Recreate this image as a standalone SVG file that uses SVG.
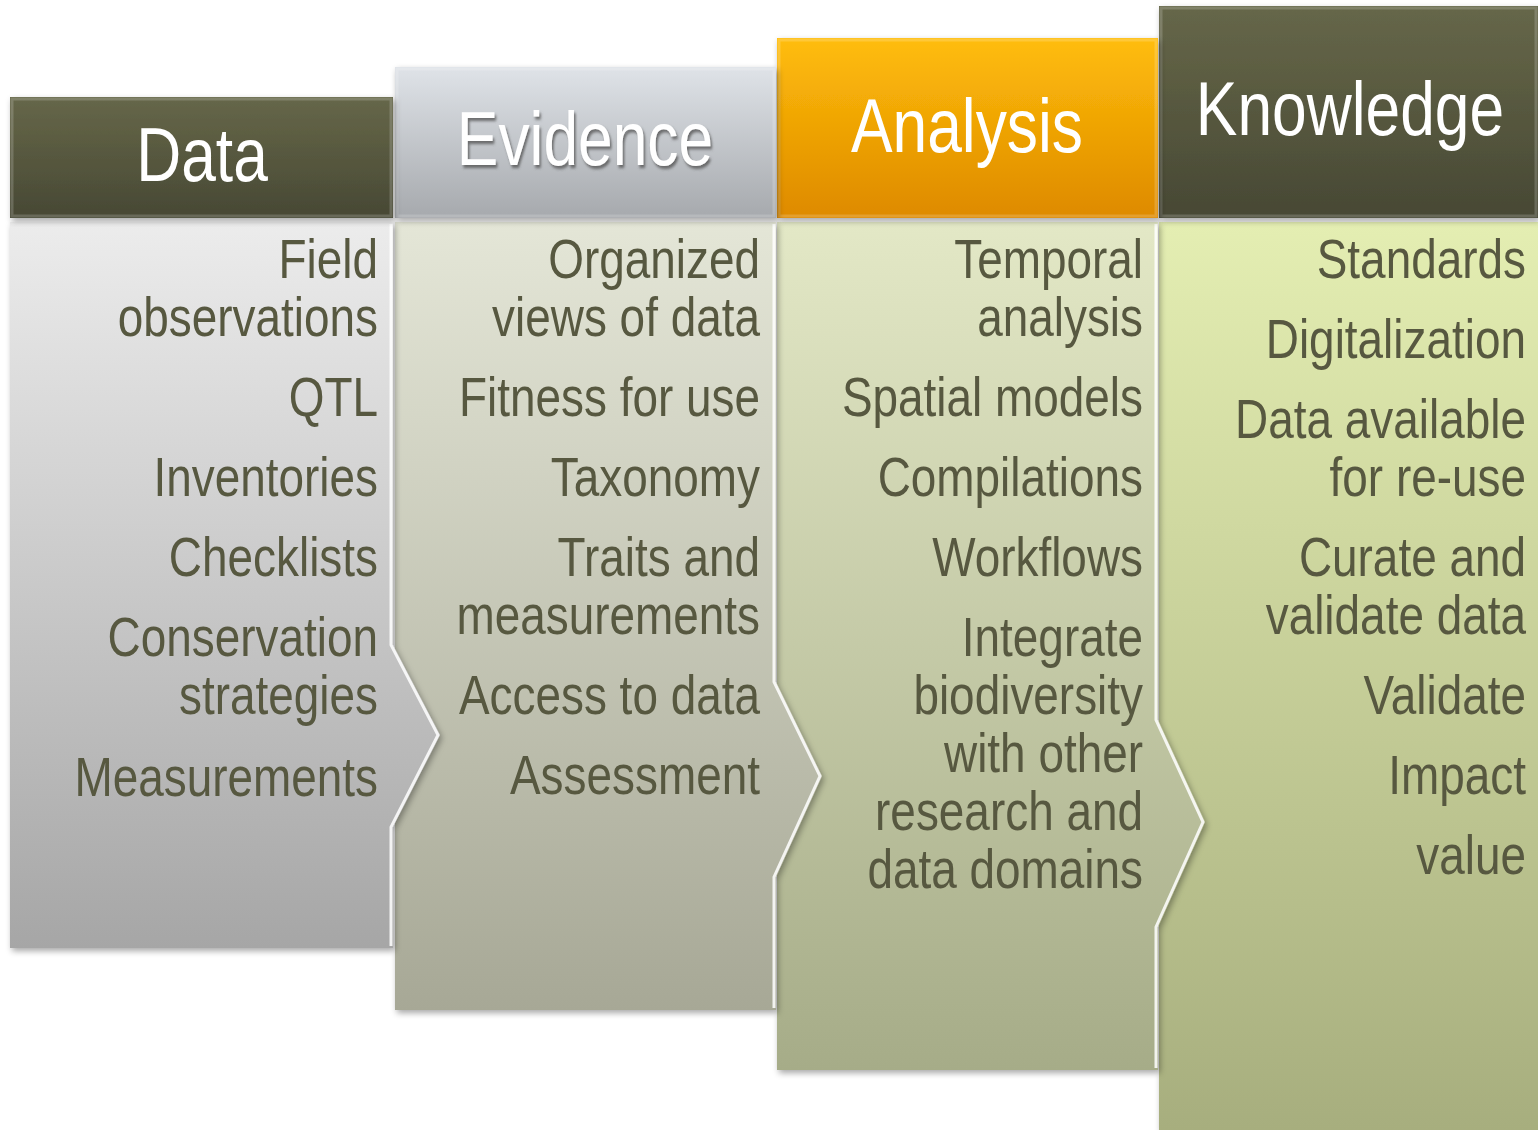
<svg xmlns="http://www.w3.org/2000/svg" width="1538" height="1130" viewBox="0 0 1538 1130">
<style>
.item{font-family:"Liberation Sans",Arial,sans-serif;font-size:56px;fill:#575840;text-anchor:end}
.title{font-family:"Liberation Sans",Arial,sans-serif;font-size:76px;fill:#ffffff;text-anchor:middle}
.edge{fill:none;stroke:#ffffff;stroke-width:3;stroke-opacity:0.85}
.bevel{fill:none;stroke:#ffffff;stroke-width:3;stroke-opacity:0.18}
</style>
<defs>
<filter id="sh" x="-5%" y="-5%" width="112%" height="112%">
<feDropShadow dx="2" dy="3" stdDeviation="3" flood-color="#000" flood-opacity="0.35"/>
</filter>
<filter id="tsh" x="-5%" y="-5%" width="115%" height="120%">
<feDropShadow dx="2" dy="3" stdDeviation="1.5" flood-color="#555" flood-opacity="0.8"/>
</filter>
<linearGradient id="hOlive" x1="0" y1="0" x2="0" y2="1">
<stop offset="0" stop-color="#666749"/><stop offset="1" stop-color="#474834"/>
</linearGradient>
<linearGradient id="hGray" x1="0" y1="0" x2="0" y2="1">
<stop offset="0" stop-color="#dfe3e8"/><stop offset="1" stop-color="#a6a9ad"/>
</linearGradient>
<linearGradient id="hOrange" x1="0" y1="0" x2="0" y2="1">
<stop offset="0" stop-color="#ffbd0a"/><stop offset="1" stop-color="#de8a00"/>
</linearGradient>
<linearGradient id="bData" gradientUnits="userSpaceOnUse" x1="0" y1="222" x2="0" y2="948">
<stop offset="0" stop-color="#ececec"/><stop offset="1" stop-color="#a6a6a6"/>
</linearGradient>
<linearGradient id="bEv" gradientUnits="userSpaceOnUse" x1="0" y1="222" x2="0" y2="1010">
<stop offset="0" stop-color="#e4e6d7"/><stop offset="1" stop-color="#a7a896"/>
</linearGradient>
<linearGradient id="bAn" gradientUnits="userSpaceOnUse" x1="0" y1="222" x2="0" y2="1070">
<stop offset="0" stop-color="#e3e8c6"/><stop offset="1" stop-color="#a6ac88"/>
</linearGradient>
<linearGradient id="bKn" gradientUnits="userSpaceOnUse" x1="0" y1="222" x2="0" y2="1130">
<stop offset="0" stop-color="#e4eeb2"/><stop offset="1" stop-color="#a7ae7e"/>
</linearGradient>
</defs>
<rect width="1538" height="1130" fill="#ffffff"/>

<g id="knowledge">
<path d="M1159,222 H1538 V1130 H1159 Z" fill="url(#bKn)" filter="url(#sh)"/>
<rect x="1159" y="6" width="379" height="212" fill="url(#hOlive)" filter="url(#sh)"/>
<rect x="1161" y="8" width="375" height="208" class="bevel"/>
<g transform="translate(1350,0) scale(0.82,1)"><text class="title" x="0" y="135">Knowledge</text></g>
<g transform="translate(1526,0) scale(0.82,1)">
<text class="item" x="0" y="278">Standards</text>
<text class="item" x="0" y="358">Digitalization</text>
<text class="item" x="0" y="438">Data available</text>
<text class="item" x="0" y="496">for re-use</text>
<text class="item" x="0" y="576">Curate and</text>
<text class="item" x="0" y="634">validate data</text>
<text class="item" x="0" y="714">Validate</text>
<text class="item" x="0" y="794">Impact</text>
<text class="item" x="0" y="874">value</text>
</g>
</g>

<g id="analysis">
<path d="M777,222 H1158 V720 L1205,822 L1158,927 V1070 H777 Z" fill="url(#bAn)" filter="url(#sh)"/>
<path d="M1156,224 V720 L1203,822 L1156,927 V1068" class="edge"/>
<rect x="777" y="38" width="381" height="180" fill="url(#hOrange)" filter="url(#sh)"/>
<rect x="779" y="40" width="377" height="176" class="bevel"/>
<g transform="translate(967,0) scale(0.82,1)"><text class="title" x="0" y="152">Analysis</text></g>
<g transform="translate(1143,0) scale(0.82,1)">
<text class="item" x="0" y="278">Temporal</text>
<text class="item" x="0" y="336">analysis</text>
<text class="item" x="0" y="416">Spatial models</text>
<text class="item" x="0" y="496">Compilations</text>
<text class="item" x="0" y="576">Workflows</text>
<text class="item" x="0" y="656">Integrate</text>
<text class="item" x="0" y="714">biodiversity</text>
<text class="item" x="0" y="772">with other</text>
<text class="item" x="0" y="830">research and</text>
<text class="item" x="0" y="888">data domains</text>
</g>
</g>

<g id="evidence">
<path d="M395,222 H776 V682 L822,776 L776,877 V1010 H395 Z" fill="url(#bEv)" filter="url(#sh)"/>
<path d="M774,224 V682 L820,776 L774,877 V1008" class="edge"/>
<rect x="395" y="67" width="381" height="151" fill="url(#hGray)" filter="url(#sh)"/>
<rect x="397" y="69" width="377" height="147" class="bevel" stroke-opacity="0.5"/>
<g transform="translate(585,0) scale(0.82,1)"><text class="title" x="0" y="165" filter="url(#tsh)">Evidence</text></g>
<g transform="translate(760,0) scale(0.82,1)">
<text class="item" x="0" y="278">Organized</text>
<text class="item" x="0" y="336">views of data</text>
<text class="item" x="0" y="416">Fitness for use</text>
<text class="item" x="0" y="496">Taxonomy</text>
<text class="item" x="0" y="576">Traits and</text>
<text class="item" x="0" y="634">measurements</text>
<text class="item" x="0" y="714">Access to data</text>
<text class="item" x="0" y="794">Assessment</text>
</g>
</g>

<g id="data">
<path d="M10,222 H393 V645 L440,735 L393,827 V948 H10 Z" fill="url(#bData)" filter="url(#sh)"/>
<path d="M391,224 V645 L438,735 L391,827 V946" class="edge"/>
<rect x="10" y="97" width="383" height="121" fill="url(#hOlive)" filter="url(#sh)"/>
<rect x="12" y="99" width="379" height="117" class="bevel"/>
<g transform="translate(202,0) scale(0.82,1)"><text class="title" x="0" y="181">Data</text></g>
<g transform="translate(378,0) scale(0.82,1)">
<text class="item" x="0" y="278">Field</text>
<text class="item" x="0" y="336">observations</text>
<text class="item" x="0" y="416">QTL</text>
<text class="item" x="0" y="496">Inventories</text>
<text class="item" x="0" y="576">Checklists</text>
<text class="item" x="0" y="656">Conservation</text>
<text class="item" x="0" y="714">strategies</text>
<text class="item" x="0" y="796">Measurements</text>
</g>
</g>

<g id="connectors"></g>
</svg>
